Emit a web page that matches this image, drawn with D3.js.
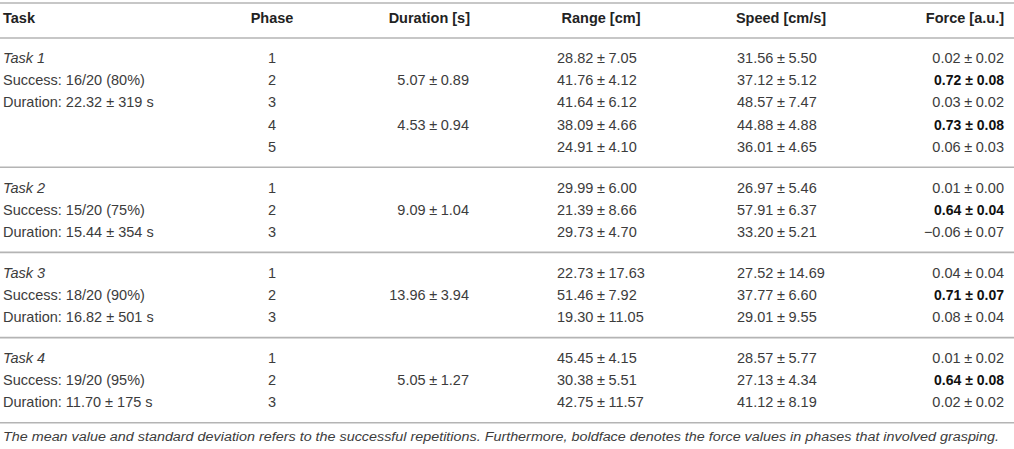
<!DOCTYPE html>
<html><head><meta charset="utf-8">
<script src="https://cdn.jsdelivr.net/npm/d3@7"></script>
<style>
html,body{margin:0;padding:0;background:#fff;}
svg{display:block;}
</style></head>
<body>
<script>
// ---- data ----
const headers = ["Task","Phase","Duration [s]","Range [cm]","Speed [cm/s]","Force [a.u.]"];
const taskNames = ["Task 1","Task 2","Task 3","Task 4"];
const successText = ["16/20 (80%)","15/20 (75%)","18/20 (90%)","19/20 (95%)"];
const taskDuration = ["22.32 ± 319 s","15.44 ± 354 s","16.82 ± 501 s","11.70 ± 175 s"];
const phases = [[1,2,3,4,5],[1,2,3],[1,2,3],[1,2,3]];
const durMean = [[null,5.07,null,4.53,null],[null,9.09,null],[null,13.96,null],[null,5.05,null]];
const durSd   = [[null,0.89,null,0.94,null],[null,1.04,null],[null,3.94,null],[null,1.27,null]];
const rangeMean = [[28.82,41.76,41.64,38.09,24.91],[29.99,21.39,29.73],[22.73,51.46,19.30],[45.45,30.38,42.75]];
const rangeSd   = [[7.05,4.12,6.12,4.66,4.10],[6.00,8.66,4.70],[17.63,7.92,11.05],[4.15,5.51,11.57]];
const speedMean = [[31.56,37.12,48.57,44.88,36.01],[26.97,57.91,33.20],[27.52,37.77,29.01],[28.57,27.13,41.12]];
const speedSd   = [[5.50,5.12,7.47,4.88,4.65],[5.46,6.37,5.21],[14.69,6.60,9.55],[5.77,4.34,8.19]];
const forceMean = [[0.02,0.72,0.03,0.73,0.06],[0.01,0.64,-0.06],[0.04,0.71,0.08],[0.01,0.64,0.02]];
const forceSd   = [[0.02,0.08,0.02,0.08,0.03],[0.00,0.04,0.07],[0.04,0.07,0.04],[0.02,0.08,0.02]];
const graspPhases = [[2,4],[2],[2],[2]];
const caption = "The mean value and standard deviation refers to the successful repetitions. Furthermore, boldface denotes the force values in phases that involved grasping.";

// ---- layout ----
const W = 1014, H = 449;
const FONT = "'Liberation Sans', Arial, Helvetica, sans-serif";
const TEXT = "#3c3c3c", LINE = "#b4b4b4";
const FS = 14.5;
const fmt = d3.format(".2f");
const pm = (m, s) => fmt(m) + "\u2005±\u2005" + fmt(s);
const pmBold = (m, s) => fmt(m) + " ± " + fmt(s);

const svg = d3.select("body").append("svg").attr("width", W).attr("height", H)
  .style("font-family", FONT);

// column positions (x) via ordinal scale
const cols = ["task","phase","dur","range","speed","force"];
const colX = d3.scaleOrdinal().domain(cols).range([3, 272, 469, 557, 737, 1004]);
const colAnchor = {task:"start", phase:"middle", dur:"end", range:"start", speed:"start", force:"end"};
const headX = d3.scaleOrdinal().domain(cols).range([3, 272, 470, 601, 781, 1004]);
const headAnchor = ["start","middle","end","middle","middle","end"];

// build flat rows
const rows = [];
let idx = 0;
phases.forEach((ps, g) => {
  ps.forEach((p, k) => {
    rows.push({g, k, pos: idx + g * 0.838, phase: p,
      task: k === 0 ? taskNames[g] : k === 1 ? "Success: " + successText[g] : k === 2 ? "Duration: " + taskDuration[g] : "",
      dur: durMean[g][k] == null ? "" : pm(durMean[g][k], durSd[g][k]),
      range: pm(rangeMean[g][k], rangeSd[g][k]),
      speed: pm(speedMean[g][k], speedSd[g][k]),
      force: graspPhases[g].includes(p) ? pmBold(forceMean[g][k], forceSd[g][k]) : pm(forceMean[g][k], forceSd[g][k]),
      bold: graspPhases[g].includes(p)});
    idx++;
  });
});
const y = d3.scaleLinear().domain([0, 1]).range([58, 80.2]);

// rules
const ruleYs = [3, 38];
phases.forEach((ps, g) => {
  const last = rows.filter(r => r.g === g).slice(-1)[0];
  ruleYs.push(y(last.pos + 0.919));
});
svg.selectAll("line.rule").data(ruleYs).join("line").attr("class","rule")
  .attr("x1", 0).attr("x2", W).attr("y1", d => d).attr("y2", d => d)
  .attr("stroke", LINE).attr("stroke-width", 1.6);

// header
svg.selectAll("text.head").data(headers).join("text").attr("class","head")
  .attr("x", (d, i) => headX(cols[i])).attr("y", 18).attr("dy", "0.35em")
  .attr("text-anchor", (d, i) => headAnchor[i])
  .attr("font-weight", "bold").attr("font-size", FS).attr("fill", "#222")
  .text(d => d);

// body cells
const cells = [];
rows.forEach(r => cols.forEach(c => cells.push({r, c, text: c === "phase" ? String(r.phase) : r[c]})));
svg.selectAll("text.cell").data(cells.filter(d => d.text !== "")).join("text").attr("class","cell")
  .attr("x", d => colX(d.c)).attr("y", d => y(d.r.pos)).attr("dy", "0.35em")
  .attr("text-anchor", d => colAnchor[d.c])
  .attr("font-size", d => d.c === "force" && d.r.bold ? 14 : FS)
  .attr("font-style", d => d.c === "task" && d.r.k === 0 ? "italic" : "normal")
  .attr("font-weight", d => d.c === "force" && d.r.bold ? "bold" : "normal")
  .attr("fill", d => d.c === "force" && d.r.bold ? "#111" : TEXT)
  .text(d => d.text);

// caption
svg.append("text").attr("x", 3).attr("y", 437).attr("dy", "0.35em")
  .attr("font-size", 12.5).attr("font-style", "italic").attr("fill", TEXT)
  .attr("textLength", 996).attr("lengthAdjust", "spacingAndGlyphs")
  .text(caption);
</script>
</body></html>
